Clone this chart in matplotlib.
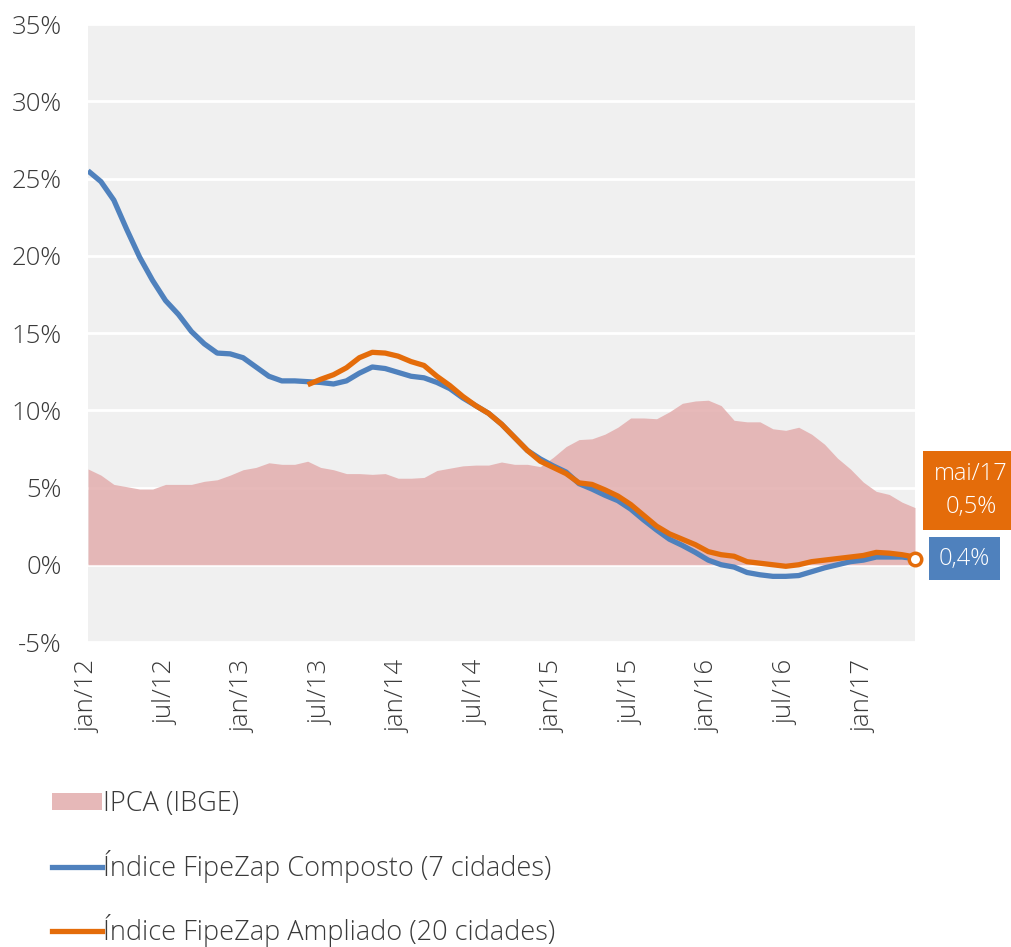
import matplotlib.pyplot as plt
from matplotlib.patches import Patch
from matplotlib.lines import Line2D

plt.rcParams['font.family'] = ['Open Sans', 'DejaVu Sans']

# monthly, jan/12 .. mai/17
months = ['jan', 'fev', 'mar', 'abr', 'mai', 'jun', 'jul', 'ago', 'set', 'out', 'nov', 'dez']
labels = [f'{m}/{y}' for y in range(12, 18) for m in months][:65]

ipca = [6.2, 5.8, 5.2, 5.05, 4.9, 4.9, 5.2, 5.2, 5.2, 5.4, 5.5, 5.8,
        6.15, 6.3, 6.6, 6.5, 6.5, 6.7, 6.3, 6.15, 5.9, 5.9, 5.85, 5.9,
        5.6, 5.6, 5.65, 6.1, 6.25, 6.4, 6.45, 6.45, 6.65, 6.5, 6.5, 6.35,
        6.95, 7.65, 8.1, 8.15, 8.45, 8.9, 9.5, 9.5, 9.45, 9.9, 10.45, 10.6,
        10.65, 10.3, 9.35, 9.25, 9.25, 8.8, 8.7, 8.9, 8.45, 7.8, 6.9, 6.2,
        5.35, 4.75, 4.55, 4.05, 3.7]

composto = [25.5, 24.8, 23.6, 21.7, 19.9, 18.4, 17.1, 16.2, 15.1, 14.3, 13.7, 13.65,
            13.4, 12.8, 12.2, 11.9, 11.9, 11.85, 11.8, 11.7, 11.9, 12.4, 12.8, 12.7,
            12.45, 12.2, 12.1, 11.8, 11.4, 10.8, 10.3, 9.8, 9.1, 8.25, 7.4, 6.85,
            6.4, 6.0, 5.25, 4.9, 4.5, 4.15, 3.6, 2.9, 2.25, 1.65, 1.25, 0.8,
            0.3, 0.0, -0.15, -0.5, -0.65, -0.75, -0.75, -0.7, -0.45, -0.2, 0.0, 0.2,
            0.3, 0.5, 0.5, 0.5, 0.4]

ampliado = [None] * 17 + [
            11.65, 12.0, 12.3, 12.75, 13.4, 13.75, 13.7, 13.5, 13.15, 12.9, 12.2, 11.6,
            10.9, 10.3, 9.8, 9.1, 8.25, 7.4, 6.7, 6.3, 5.9, 5.3, 5.2, 4.85,
            4.45, 3.9, 3.2, 2.5, 2.0, 1.65, 1.3, 0.85, 0.65, 0.55, 0.2, 0.1,
            0.0, -0.1, 0.0, 0.2, 0.3, 0.4, 0.5, 0.6, 0.8, 0.75, 0.65, 0.5]

x = list(range(len(labels)))
amp_x = [i for i, v in enumerate(ampliado) if v is not None]
amp_y = [v for v in ampliado if v is not None]

blue = '#4F81BD'
orange = '#E46C0A'
pink = '#E6B8B8'
txt = '#3A3A3A'

fig = plt.figure(figsize=(10.12, 9.47), dpi=100)
ax = fig.add_axes([88 / 1012, 1 - 642 / 947, 827 / 1012, 618 / 947])
ax.set_facecolor('#F0F0F0')

ax.set_ylim(-5, 35)
ax.set_xlim(0, len(labels) - 1)
ax.set_yticks(range(-5, 36, 5))
ax.set_yticklabels([f'{v}%' for v in range(-5, 36, 5)])
ax.grid(axis='y', color='white', linewidth=2)
ax.set_axisbelow(True)

ax.fill_between(x, ipca, 0, color='#E3ADAD', alpha=0.85, linewidth=0, zorder=2)
ax.plot(x, composto, color=blue, linewidth=3.8, solid_capstyle='butt', zorder=3)
ax.plot(amp_x, amp_y, color=orange, linewidth=3.8, solid_capstyle='butt', zorder=4)
ax.plot([amp_x[-1]], [composto[-1]], marker='o', markersize=9, markerfacecolor='white',
        markeredgecolor=orange, markeredgewidth=2.5, zorder=5, clip_on=False)

ticks = x[::6]
ax.set_xticks(ticks)
ax.set_xticklabels([labels[i] for i in ticks], rotation=90)
ax.tick_params(axis='both', length=0, labelsize=18.5, labelcolor=txt)
ax.tick_params(axis='x', pad=13)
ax.tick_params(axis='y', pad=19)
for lbl in ax.get_yticklabels() + ax.get_xticklabels():
    lbl.set_fontweight('light')
for s in ax.spines.values():
    s.set_visible(False)

# end labels
ax.annotate(f'{labels[-1]}\n{amp_y[-1]:.1f}%'.replace('.', ','), xy=(amp_x[-1], amp_y[-1]),
            xytext=(971 / 1012, 1 - 490.5 / 947), textcoords='figure fraction',
            ha='center', va='center', color='white', fontsize=17, fontweight='light',
            linespacing=1.5,
            bbox=dict(boxstyle='square,pad=0.45', facecolor=orange, edgecolor='none'))
ax.annotate(f'{composto[-1]:.1f}%'.replace('.', ','), xy=(x[-1], composto[-1]),
            xytext=(964.5 / 1012, 1 - 558.5 / 947), textcoords='figure fraction',
            ha='center', va='center', color='white', fontsize=17, fontweight='light',
            bbox=dict(boxstyle='square,pad=0.4', facecolor=blue, edgecolor='none'))

handles = [Patch(facecolor=pink, edgecolor='none'),
           Line2D([], [], color=blue, linewidth=3.8),
           Line2D([], [], color=orange, linewidth=3.8)]
names = ['IPCA (IBGE)', 'Índice FipeZap Composto (7 cidades)', 'Índice FipeZap Ampliado (20 cidades)']
leg = fig.legend(handles, names, loc='upper left', bbox_to_anchor=(52 / 1012, 1 - 790 / 947),
                 frameon=False, fontsize=19.5, labelspacing=1.17, handlelength=1.85,
                 handleheight=0.6, handletextpad=0.05, borderpad=0, borderaxespad=0)
for t in leg.get_texts():
    t.set_color(txt)
    t.set_fontweight('light')

fig.savefig('out.png', dpi=100)
